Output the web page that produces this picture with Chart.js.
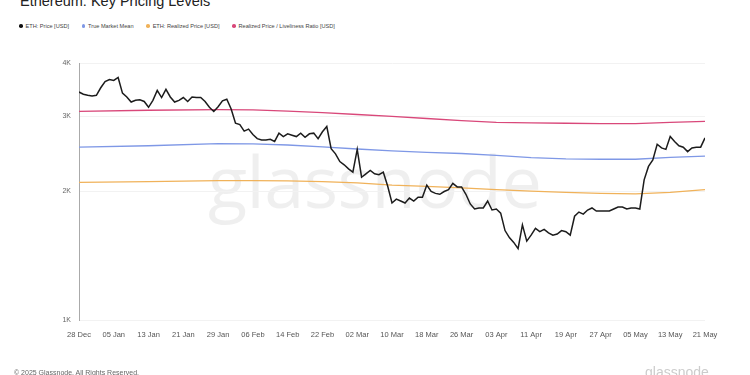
<!DOCTYPE html>
<html>
<head>
<meta charset="utf-8">
<script src="https://cdn.jsdelivr.net/npm/chart.js@4"></script>
<style>
  html, body { margin: 0; padding: 0; background: #fff; }
  body { width: 750px; height: 375px; position: relative; overflow: hidden;
         font-family: "Liberation Sans", Arial, sans-serif; }
  #chart { position: absolute; left: 0; top: 0; }
  .title { position: absolute; left: 20px; top: -7px; font-size: 14.5px; color: #222; }
  .legend { position: absolute; left: 19px; top: 23px; font-size: 5.6px; color: #444; white-space: nowrap; }
  .legend span { margin-right: 11px; }
  .legend i { display: inline-block; width: 3.5px; height: 3.5px; border-radius: 50%; margin-right: 3px; vertical-align: 0.5px; }
  .watermark { position: absolute; left: 208px; top: 131px; font-size: 72px; color: #000; opacity: 0.06;
               font-family: "Open Sans", "Liberation Sans", sans-serif; letter-spacing: -0.5px; }
  .footer { position: absolute; left: 14px; top: 369px; font-size: 7px; color: #666; }
  .logo { position: absolute; left: 645px; top: 364px; font-size: 14px; color: #ccc; }
</style>
</head>
<body>
<div class="title">Ethereum: Key Pricing Levels</div>
<div class="legend">
  <span><i style="background:#111"></i>ETH: Price [USD]</span>
  <span><i style="background:#7f98e6"></i>True Market Mean</span>
  <span><i style="background:#f0b25a"></i>ETH: Realized Price [USD]</span>
  <span><i style="background:#d9487a"></i>Realized Price / Liveliness Ratio [USD]</span>
</div>
<div class="watermark">glassnode</div>
<canvas id="chart" width="750" height="375"></canvas>
<div class="footer">© 2025 Glassnode. All Rights Reserved.</div>
<div class="logo">glassnode</div>

<script>
// x tick labels, one every 8 days starting 28 Dec
const dayLabels = ['28 Dec', '05 Jan', '13 Jan', '21 Jan', '29 Jan', '06 Feb', '14 Feb', '22 Feb',
  '02 Mar', '10 Mar', '18 Mar', '26 Mar', '03 Apr', '11 Apr', '19 Apr', '27 Apr', '05 May', '13 May', '21 May'];
const yTicks = [1000, 2000, 3000, 4000];

// daily ETH close, 28 Dec -> 21 May
const priceUsd = [
  3420, 3380, 3360, 3350, 3360, 3500, 3620, 3660, 3640, 3700,
  3400, 3330, 3240, 3270, 3280, 3250, 3150, 3270, 3450, 3320,
  3470, 3330, 3240, 3270, 3320, 3250, 3330, 3320, 3320, 3250,
  3150, 3080, 3160, 3260, 3290, 3120, 2890, 2870, 2770, 2800,
  2720, 2660, 2640, 2640, 2650, 2620, 2740, 2690, 2730, 2710,
  2690, 2740, 2680, 2730, 2740, 2660, 2760, 2840, 2520, 2450,
  2350, 2310, 2260, 2220, 2510, 2160, 2200, 2240, 2200, 2190,
  2220, 2060, 1880, 1920, 1900, 1880, 1930, 1900, 1940, 1940,
  2070, 2000, 1980, 1970, 2000, 2020, 2090, 2050, 2050, 1970,
  1870, 1820, 1830, 1830, 1900, 1810, 1820, 1780, 1620, 1560,
  1520, 1470, 1670, 1530, 1580, 1640, 1610, 1630, 1600, 1580,
  1590, 1620, 1610, 1580, 1750, 1790, 1770, 1810, 1830, 1800,
  1800, 1800, 1800, 1820, 1840, 1840, 1820, 1830, 1830, 1820,
  2130, 2290, 2370, 2580, 2530, 2510, 2690, 2620, 2560, 2540,
  2480, 2530, 2540, 2540, 2670
];

// slow-moving on-chain levels, read at these day offsets
const refDays         = [0, 16, 32, 40, 48, 56, 64, 72, 80, 88, 96, 104, 112, 120, 128, 136, 144];
const livelinessPrice = [3080, 3100, 3110, 3105, 3085, 3060, 3030, 3000, 2965, 2930, 2905, 2895, 2890, 2885, 2885, 2905, 2920];
const trueMarketMean  = [2540, 2560, 2590, 2585, 2570, 2545, 2515, 2490, 2470, 2455, 2430, 2400, 2385, 2380, 2380, 2405, 2420];
const realizedPrice   = [2100, 2110, 2120, 2120, 2118, 2110, 2095, 2070, 2055, 2040, 2020, 2005, 1990, 1980, 1975, 1990, 2020];

const toPoints = (days, vals) => vals.map((v, i) => ({ x: days[i], y: v }));

const lineStyle = (color, width) => ({
  borderColor: color,
  borderWidth: width,
  pointRadius: 0,
  tension: 0,
  fill: false
});

new Chart(document.getElementById('chart'), {
  type: 'line',
  data: {
    datasets: [
      { label: 'ETH: Price [USD]', data: priceUsd.map((v, i) => ({ x: i, y: v })), ...lineStyle('#1c1c1c', 1.5) },
      { label: 'Realized Price / Liveliness Ratio [USD]', data: toPoints(refDays, livelinessPrice), ...lineStyle('#d9487a', 1.3) },
      { label: 'True Market Mean', data: toPoints(refDays, trueMarketMean), ...lineStyle('#7f98e6', 1.3) },
      { label: 'ETH: Realized Price [USD]', data: toPoints(refDays, realizedPrice), ...lineStyle('#f0b25a', 1.3) }
    ]
  },
  options: {
    responsive: false,
    animation: false,
    layout: { padding: { top: 63, left: 0, right: 45, bottom: 35 } },
    plugins: { legend: { display: false }, tooltip: { enabled: false } },
    scales: {
      x: {
        type: 'linear',
        min: 0,
        max: 144,
        afterFit: s => { s.height = 20; },
        afterBuildTicks: s => { s.ticks = dayLabels.map((_, i) => ({ value: i * 8 })); },
        ticks: {
          autoSkip: false,
          maxRotation: 0,
          padding: 2,
          color: '#555',
          font: { size: 7.5, family: 'Liberation Sans' },
          callback: v => dayLabels[v / 8]
        },
        grid: { display: false },
        border: { display: false }
      },
      y: {
        type: 'logarithmic',
        min: 1000,
        max: 4000,
        afterFit: s => { s.width = 79; },
        afterBuildTicks: s => { s.ticks = yTicks.map(v => ({ value: v })); },
        ticks: {
          padding: 8,
          color: '#666',
          font: { size: 7, family: 'Liberation Sans' },
          callback: v => (v / 1000) + 'K'
        },
        grid: { color: '#f2f2f2', drawTicks: false },
        border: { color: '#aaa', width: 1 }
      }
    }
  }
});
</script>
</body>
</html>
